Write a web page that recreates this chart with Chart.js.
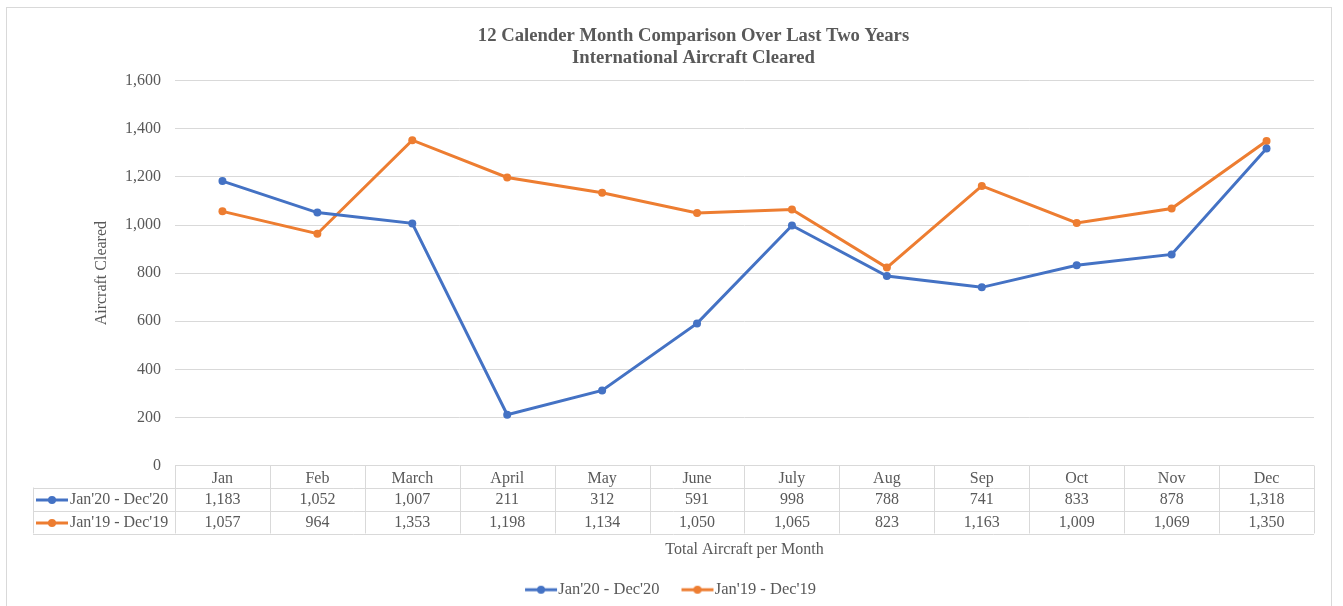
<!DOCTYPE html>
<html><head><meta charset="utf-8">
<script src="https://cdn.jsdelivr.net/npm/chart.js@4"></script>
<style>
html,body{margin:0;padding:0;background:#fff;}
#frame{position:absolute;left:6px;top:7px;width:1324px;height:700px;border:1px solid #d9d9d9;}
#wrap{position:absolute;left:0;top:0;width:1343px;height:606px;}
</style></head><body>
<div id="frame"></div>
<div id="wrap"><canvas id="c" width="1343" height="606"></canvas></div>
<script>
const months = ["Jan","Feb","March","April","May","June","July","Aug","Sep","Oct","Nov","Dec"];
const series2020 = [1183,1052,1007,211,312,591,998,788,741,833,878,1318];
const series2019 = [1057,964,1353,1198,1134,1050,1065,823,1163,1009,1069,1350];
const seriesLabels = ["Jan'20 - Dec'20","Jan'19 - Dec'19"];
const seriesColors = ["#4472C4","#ED7D31"];
const titleLines = ["12 Calender Month Comparison Over Last Two Years","International Aircraft Cleared"];
const yTitle = "Aircraft Cleared";
const xTitle = "Total Aircraft per Month";

const FONT = "'Liberation Serif','Times New Roman',serif";
const TXT = "#595959";
const GRID = "#d9d9d9";

function keyImg(color, w, off){
  const c=document.createElement('canvas'); c.width=w; c.height=10;
  const g=c.getContext('2d');
  g.strokeStyle=color; g.lineWidth=3; g.beginPath(); g.moveTo(off,5); g.lineTo(off+32,5); g.stroke();
  g.fillStyle=color; g.beginPath(); g.arc(off+16,5,4,0,2*Math.PI); g.fill();
  return c;
}
const keys = seriesColors.map(c=>keyImg(c,32,0));
const legendKeys = seriesColors.map(c=>keyImg(c,53,20));
const allSeries = [series2020, series2019];
const fmt = v => v.toLocaleString('en-US');

const tablePlugin = {
  id:'dataTable',
  afterLayout(chart){
    chart.titleBlock.left += 44;
    chart.legend.right -= 14;
    chart.legend.top += 2; chart.legend.bottom += 2;
  },
  afterDraw(chart){
    const ctx=chart.ctx, xs=chart.scales.x, a=chart.chartArea;
    const n=months.length;
    const colW=(a.right-a.left)/n;
    const rowY=[a.bottom, a.bottom+22, a.bottom+45, a.bottom+68];
    const L=33;
    ctx.save();
    ctx.strokeStyle=GRID; ctx.lineWidth=1;
    const ln=(x1,y1,x2,y2)=>{ctx.beginPath();ctx.moveTo(x1,y1);ctx.lineTo(x2,y2);ctx.stroke();};
    for(let r=1;r<4;r++) ln(L, Math.round(rowY[r])+0.5, a.right, Math.round(rowY[r])+0.5);
    ln(L+0.5, rowY[1], L+0.5, rowY[3]);
    for(let i=0;i<=n;i++){
      const xx = i<n ? xs.getPixelForValue(i)-colW/2 : xs.getPixelForValue(n-1)+colW/2;
      const px=Math.round(xx)+0.5;
      ln(px, rowY[0], px, rowY[3]);
    }
    ctx.font="16px "+FONT; ctx.fillStyle=TXT; ctx.textBaseline='middle';
    for(let s=0;s<allSeries.length;s++){
      const yc=(rowY[s+1]+rowY[s+2])/2+1;
      ctx.drawImage(keys[s], 36, Math.round(yc-5));
      ctx.textAlign='left';
      ctx.fillText(seriesLabels[s], 70, yc);
      ctx.textAlign='center';
      allSeries[s].forEach((v,i)=>ctx.fillText(fmt(v), xs.getPixelForValue(i), yc));
    }
    ctx.restore();
  }
};

new Chart(document.getElementById('c'), {
  type:'line',
  data:{
    labels: months,
    datasets: allSeries.map((d,i)=>({
      label: seriesLabels[i], data: d,
      borderColor: seriesColors[i], backgroundColor: seriesColors[i],
      borderWidth: 3, pointRadius: 4, pointHoverRadius: 4,
      pointBackgroundColor: seriesColors[i], pointBorderWidth: 0, tension: 0
    }))
  },
  options:{
    responsive:false, animation:false, devicePixelRatio:1,
    layout:{padding:{left:29,right:29,top:0,bottom:0}},
    plugins:{
      title:{display:true, text:titleLines, color:TXT, font:{family:FONT,size:18.67,weight:'bold',lineHeight:1.2}, padding:{top:25,bottom:11}},
      legend:{position:'bottom', labels:{
        color:TXT, font:{family:FONT,size:16.5}, usePointStyle:true, pointStyleWidth:37, padding:10,
        generateLabels(chart){
          const items=Chart.defaults.plugins.legend.labels.generateLabels(chart);
          items.forEach((it,i)=>{it.pointStyle=legendKeys[i];});
          return items;
        }}},
      tooltip:{enabled:false}
    },
    scales:{
      x:{
        offset:true,
        grid:{display:false, drawTicks:false}, border:{display:false},
        ticks:{color:TXT, font:{family:FONT,size:16}, padding:4, maxRotation:0, autoSkip:false},
        title:{display:true, text:xTitle, color:TXT, font:{family:FONT,size:16}, padding:{top:0,bottom:10}},
        afterFit(s){ s.height=104; }
      },
      y:{
        min:0, max:1600,
        grid:{color:GRID, drawTicks:false}, border:{display:false},
        ticks:{stepSize:200, color:TXT, font:{family:FONT,size:16}, padding:14, callback:v=>fmt(v)},
        title:{display:true, text:yTitle, color:TXT, font:{family:FONT,size:16}, padding:{top:63,bottom:0}},
        afterFit(s){ s.width=146; }
      }
    }
  },
  plugins:[tablePlugin]
});
</script>
</body></html>
